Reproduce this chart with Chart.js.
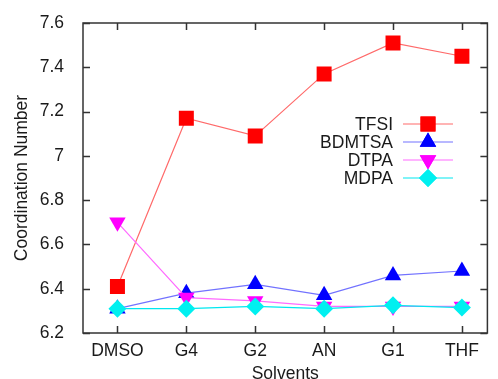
<!DOCTYPE html>
<html>
<head>
<meta charset="utf-8">
<script src="https://cdn.jsdelivr.net/npm/chart.js@4.4.0/dist/chart.umd.min.js"></script>
<style>
  html, body { margin: 0; padding: 0; background: #fff; }
  #wrap { width: 498px; height: 379px; }
</style>
</head>
<body>
<div id="wrap"><canvas id="canvas" width="498" height="379"></canvas></div>
<script>
var solvents = ["DMSO", "G4", "G2", "AN", "G1", "THF"];
var yTicks = [6.2, 6.4, 6.6, 6.8, 7.0, 7.2, 7.4, 7.6];
var yTickLabels = ["6.2", "6.4", "6.6", "6.8", "7", "7.2", "7.4", "7.6"];

var tfsi   = [6.41, 7.17, 7.09, 7.37, 7.51, 7.45];
var bdmtsa = [6.31, 6.38, 6.42, 6.37, 6.46, 6.48];
var dtpa   = [6.70, 6.36, 6.345, 6.32, 6.32, 6.32];
var mdpa   = [6.31, 6.31, 6.32, 6.31, 6.325, 6.315];

var FONT = "'Liberation Sans', Arial, sans-serif";
var TEXT = "#1a1a1a";

function pts(arr) {
  return arr.map(function(v, i) { return {x: i + 1, y: v}; });
}

function series(label, data, line, mark, style, radius, rot, order) {
  return {
    label: label,
    data: pts(data),
    borderColor: line,
    borderWidth: 1.2,
    pointBackgroundColor: mark,
    pointBorderColor: mark,
    pointBorderWidth: 0,
    pointStyle: style,
    pointRadius: radius,
    pointRotation: rot,
    fill: false,
    tension: 0,
    order: order
  };
}

// gnuplot style frame with inward ticks
var framePlugin = {
  id: 'frame',
  beforeDatasetsDraw: function(chart) {
    var ctx = chart.ctx, a = chart.chartArea;
    var xs = chart.scales.x, ys = chart.scales.y;
    ctx.save();
    ctx.strokeStyle = "#333";
    ctx.lineWidth = 1.5;
    ctx.strokeRect(a.left, a.top, a.right - a.left, a.bottom - a.top);
    ctx.beginPath();
    var t = 7;
    solvents.forEach(function(s, i) {
      var px = Math.round(xs.getPixelForValue(i + 1)) + 0.5;
      ctx.moveTo(px, a.bottom); ctx.lineTo(px, a.bottom - t);
      ctx.moveTo(px, a.top); ctx.lineTo(px, a.top + t);
    });
    yTicks.forEach(function(v) {
      var py = Math.round(ys.getPixelForValue(v)) + 0.5;
      ctx.moveTo(a.left, py); ctx.lineTo(a.left + t, py);
      ctx.moveTo(a.right, py); ctx.lineTo(a.right - t, py);
    });
    ctx.stroke();
    ctx.restore();
  }
};

// key placed inside the plot, text right aligned then sample
var keyPlugin = {
  id: 'key',
  afterDraw: function(chart) {
    var ctx = chart.ctx, a = chart.chartArea;
    ctx.save();
    ctx.font = "17.5px " + FONT;
    ctx.textAlign = "right";
    ctx.textBaseline = "middle";
    chart.data.datasets.forEach(function(ds, i) {
      var y = a.top + 101 + i * 18;
      var tx = a.left + 310;
      ctx.fillStyle = TEXT;
      ctx.fillText(ds.label, tx, y + 1);
      ctx.strokeStyle = ds.borderColor;
      ctx.lineWidth = 1.2;
      ctx.beginPath();
      ctx.moveTo(tx + 10, y); ctx.lineTo(tx + 60, y);
      ctx.stroke();
      ctx.fillStyle = ds.pointBackgroundColor;
      ctx.strokeStyle = ds.pointBorderColor;
      Chart.helpers.drawPoint(ctx, {pointStyle: ds.pointStyle, radius: ds.pointRadius, rotation: ds.pointRotation, borderWidth: 0}, tx + 35, y);
      ctx.fill();
    });
    ctx.restore();
  }
};

new Chart(document.getElementById("canvas").getContext("2d"), {
  type: 'line',
  data: {
    datasets: [
      series("TFSI", tfsi, "#ff6a6a", "#ff0000", "rect", 10.6, 0, 4),
      series("BDMTSA", bdmtsa, "#7272ff", "#0000ff", "triangle", 9.5, 0, 3),
      series("DTPA", dtpa, "#ff6aff", "#ff00ff", "triangle", 9.5, 180, 2),
      series("MDPA", mdpa, "#00e8f0", "#00f0f0", "rectRot", 9, 0, 1)
    ]
  },
  options: {
    responsive: false,
    animation: false,
    devicePixelRatio: 1,
    layout: { padding: { top: 23, right: 1, left: 0, bottom: 0 } },
    plugins: {
      legend: { display: false },
      tooltip: { enabled: false }
    },
    scales: {
      x: {
        type: 'linear',
        min: 0.5,
        max: 6.37,
        afterBuildTicks: function(scale) {
          scale.ticks = solvents.map(function(s, i) { return {value: i + 1}; });
        },
        afterFit: function(scale) { scale.height = 46; },
        grid: { display: false },
        border: { display: false },
        ticks: {
          color: TEXT,
          font: { family: FONT, size: 17.5 },
          padding: 0,
          maxRotation: 0,
          autoSkip: false,
          callback: function(v) { return solvents[Math.round(v) - 1]; }
        },
        title: {
          display: true,
          text: "Solvents",
          color: TEXT,
          font: { family: FONT, size: 17.5 },
          padding: { top: 0, bottom: -5.5 }
        }
      },
      y: {
        min: 6.2,
        max: 7.6,
        afterBuildTicks: function(scale) {
          scale.ticks = yTicks.map(function(v) { return {value: v}; });
        },
        afterFit: function(scale) { scale.width = 83; },
        grid: { display: false },
        border: { display: false },
        ticks: {
          color: TEXT,
          font: { family: FONT, size: 17.5 },
          padding: 11,
          callback: function(v) { return yTickLabels[yTicks.indexOf(v)]; }
        },
        title: {
          display: true,
          text: "Coordination Number",
          color: TEXT,
          font: { family: FONT, size: 17.5 },
          padding: { top: 11.5, bottom: 0 }
        }
      }
    }
  },
  plugins: [framePlugin, keyPlugin]
});
</script>
</body>
</html>
